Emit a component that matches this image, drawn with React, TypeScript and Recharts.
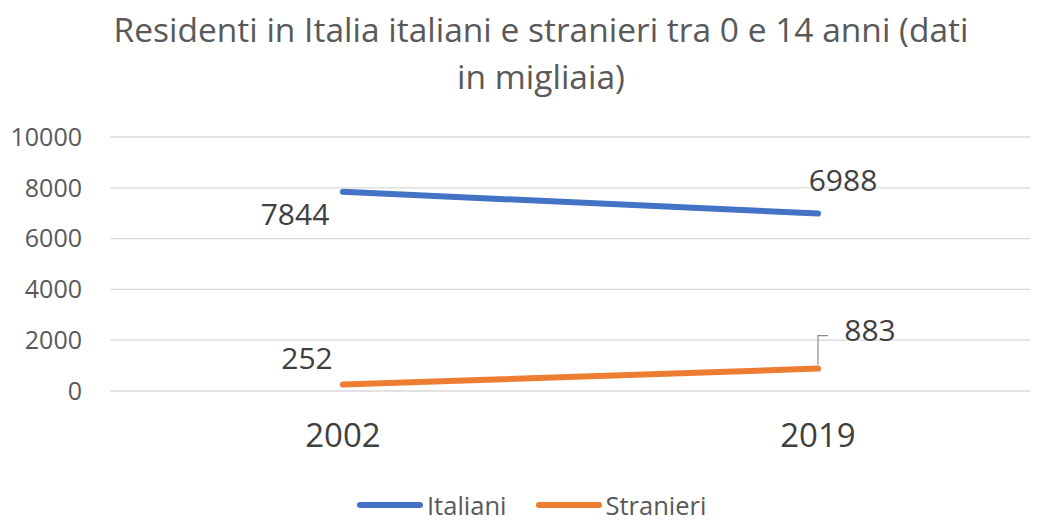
import React from "react";
import { LineChart, Line, XAxis, YAxis, CartesianGrid } from "recharts";

const years = ["2002", "2019"];
const italiani = [7844, 6988];
const stranieri = [252, 883];
const yTicks = [0, 2000, 4000, 6000, 8000, 10000];

const data = years.map((year, i) => ({
  year,
  italiani: italiani[i],
  stranieri: stranieri[i],
}));

const FONT = "'Open Sans', sans-serif";

const ItalianiLabel = (props: any) => {
  const { x, y, value, index } = props;
  // first point label sits below-left, second above-right
  const dx = index === 0 ? -48 : 25;
  const dy = index === 0 ? 33 : -23;
  return (
    <text
      x={x + dx}
      y={y + dy}
      textAnchor="middle"
      fontSize={30}
      fill="#404040"
      fontFamily={FONT}
    >
      {value}
    </text>
  );
};

const StranieriLabel = (props: any) => {
  const { x, y, value, index } = props;
  if (index === 0) {
    return (
      <text
        x={x - 36}
        y={y - 16}
        textAnchor="middle"
        fontSize={30}
        fill="#404040"
        fontFamily={FONT}
      >
        {value}
      </text>
    );
  }
  // leader line up to the label
  return (
    <g>
      <path
        d={`M${x},${y - 4} L${x},${y - 33} L${x + 10},${y - 33}`}
        stroke="#8c8c8c"
        strokeWidth={1.2}
        fill="none"
      />
      <text
        x={x + 52}
        y={y - 28}
        textAnchor="middle"
        fontSize={30}
        fill="#404040"
        fontFamily={FONT}
      >
        {value}
      </text>
    </g>
  );
};

const LegendItem = ({ color, label }: { color: string; label: string }) => (
  <div style={{ display: "flex", alignItems: "center", gap: 3 }}>
    <svg width={68} height={10}>
      <line x1={4} y1={5} x2={64} y2={5} stroke={color} strokeWidth={6} strokeLinecap="round" />
    </svg>
    <span>{label}</span>
  </div>
);

export default function App() {
  return (
    <div
      style={{
        position: "absolute",
        left: 0,
        top: 0,
        width: 1045,
        height: 522,
        background: "#fff",
        fontFamily: FONT,
        overflow: "hidden",
      }}
    >
      <div
        style={{
          position: "absolute",
          top: 6,
          left: 0,
          width: 1082,
          textAlign: "center",
          fontSize: 33.5,
          lineHeight: "47px",
          color: "#595959",
        }}
      >
        Residenti in Italia italiani e stranieri tra 0 e 14 anni (dati
        <br />
        in migliaia)
      </div>
      <LineChart
        width={1045}
        height={470}
        data={data}
        margin={{ top: 137, right: 15, bottom: 0, left: 0 }}
        style={{ position: "absolute", left: 0, top: 0 }}
      >
        <CartesianGrid vertical={false} stroke="#d9d9d9" strokeWidth={1.3} />
        <XAxis
          dataKey="year"
          axisLine={false}
          tickLine={false}
          padding={{ left: 233, right: 212 }}
          height={79}
          tickMargin={27}
          tick={{ fontSize: 33, fill: "#404040", fontFamily: FONT }}
        />
        <YAxis
          domain={[0, 10000]}
          ticks={yTicks}
          axisLine={false}
          tickLine={false}
          width={110}
          tickMargin={22}
          tick={{ fontSize: 25, fill: "#595959", fontFamily: FONT }}
        />
        <Line
          dataKey="italiani"
          stroke="#4472C4"
          strokeWidth={6}
          strokeLinecap="round"
          dot={false}
          label={<ItalianiLabel />}
          isAnimationActive={false}
        />
        <Line
          dataKey="stranieri"
          stroke="#ED7D31"
          strokeWidth={6}
          strokeLinecap="round"
          dot={false}
          label={<StranieriLabel />}
          isAnimationActive={false}
        />
      </LineChart>
      <div
        style={{
          position: "absolute",
          top: 494,
          left: 356,
          display: "flex",
          gap: 28,
          fontSize: 25.5,
          color: "#595959",
          lineHeight: "22px",
        }}
      >
        <LegendItem color="#4472C4" label="Italiani" />
        <LegendItem color="#ED7D31" label="Stranieri" />
      </div>
    </div>
  );
}
